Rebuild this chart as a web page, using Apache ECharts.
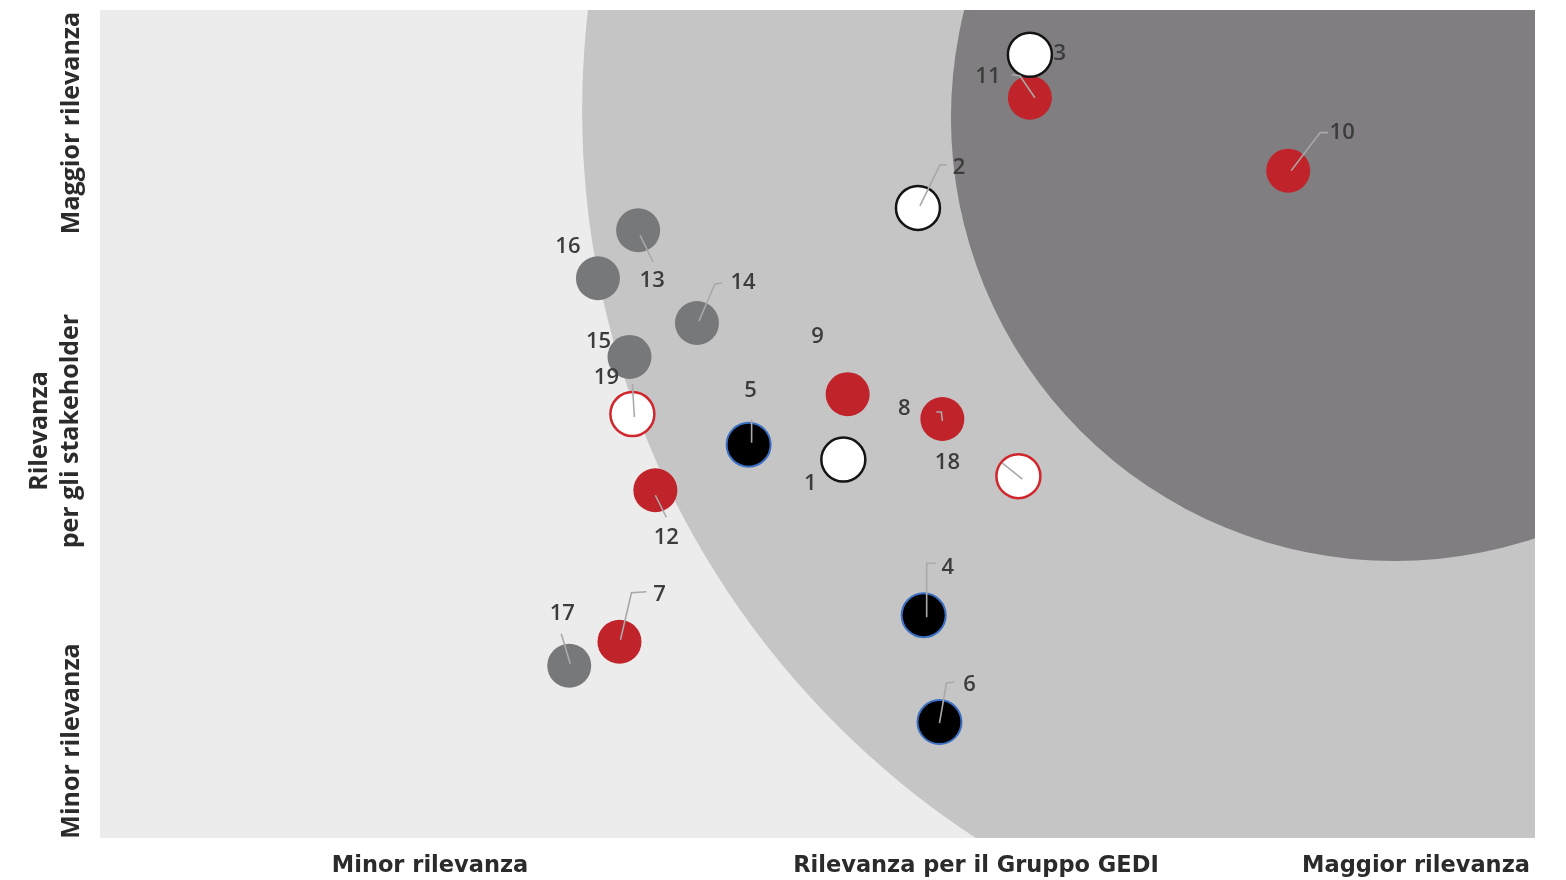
<!DOCTYPE html>
<html>
<head>
<meta charset="utf-8">
<script src="https://cdn.jsdelivr.net/npm/echarts@6/dist/echarts.min.js"></script>
<style>
  html, body { margin: 0; padding: 0; background: #ffffff; }
  #chart { width: 1566px; height: 880px; }
</style>
</head>
<body>
<div id="chart"></div>
<script>
// Material topics: relevance for the Group (x) and for stakeholders (y), 0–100 scale
const topicIds = ['1', '2', '3', '4', '5', '6', '7', '8', '9', '10',
                  '11', '12', '13', '14', '15', '16', '17', '18', '19'];
const groupRelevance = [51.8, 57.0, 64.8, 57.4, 45.2, 58.5, 36.2, 58.7, 52.1, 82.8,
                        64.8, 38.7, 37.5, 41.6, 36.9, 34.7, 32.7, 64.0, 37.1];
const stakeholderRelevance = [45.7, 76.1, 94.6, 26.9, 47.5, 14.0, 23.7, 50.6, 53.6, 80.6,
                              89.4, 42.0, 73.4, 62.2, 58.1, 67.6, 20.8, 43.7, 51.2];
const topicGroups = ['outline', 'outline', 'outline', 'dark', 'dark', 'dark',
                     'red', 'red', 'red', 'red', 'red', 'red',
                     'grey', 'grey', 'grey', 'grey', 'grey', 'ring', 'ring'];

// Relevance zones: centre (x, y) and radius in x-axis units
const zoneCenterX = [94.2, 90.2];
const zoneCenterY = [87.9, 87.0];
const zoneRadius = [60.6, 30.9];

// Axis titles
const xAxisTitles = ['Minor rilevanza', 'Rilevanza per il Gruppo GEDI', 'Maggior rilevanza'];
const yAxisTitles = ['Minor rilevanza', 'Rilevanza\nper gli stakeholder', 'Maggior rilevanza'];

// ---- styling ----
const zoneColors = ['#c5c5c5', '#807e81'];
const groupStyles = {
  red:     { color: '#c1232a', borderColor: '#c1232a', borderWidth: 0 },
  grey:    { color: '#76787a', borderColor: '#76787a', borderWidth: 0 },
  dark:    { color: '#000000', borderColor: '#3b6fc2', borderWidth: 2 },
  ring:    { color: '#ffffff', borderColor: '#d0262c', borderWidth: 2.5 },
  outline: { color: '#ffffff', borderColor: '#141414', borderWidth: 2.5 }
};
const drawOrder = ['red', 'grey', 'dark', 'ring', 'outline'];

// Label placement in pixels relative to each marker, with optional leader polyline
const labelPlacement = {
  '1':  { label: [-33, 24] },
  '2':  { label: [41, -40], leader: [[2, -2], [22, -43], [29, -43]] },
  '3':  { label: [30, -1] },
  '4':  { label: [24, -48], leader: [[3, 2], [3, -52], [12, -52]] },
  '5':  { label: [2, -54], leader: [[3, -2], [3, -25]] },
  '6':  { label: [30, -37], leader: [[0, 1], [7, -39], [15, -40]] },
  '7':  { label: [40, -47], leader: [[1, -2], [12, -49], [27, -50]] },
  '8':  { label: [-38, -10], leader: [[0, 2], [-1, -7], [-6, -7]] },
  '9':  { label: [-30, -57] },
  '10': { label: [54, -38], leader: [[3, 0], [32, -38], [40, -38]] },
  '11': { label: [-42, -21], leader: [[5, 0], [-10, -22], [-18, -23]] },
  '12': { label: [11, 47], leader: [[0, 5], [11, 27]] },
  '13': { label: [14, 50], leader: [[2, 5], [15, 32]] },
  '14': { label: [46, -40], leader: [[2, -2], [18, -39], [25, -40]] },
  '15': { label: [-31, -15] },
  '16': { label: [-30, -32] },
  '17': { label: [-7, -52], leader: [[1, -2], [-8, -32]] },
  '18': { label: [-71, -13], leader: [[4, 3], [-16, -13]] },
  '19': { label: [-26, -36], leader: [[2, 3], [0, -30]] }
};

const chart = echarts.init(document.getElementById('chart'), null, { renderer: 'canvas' });

const zoneData = zoneRadius.map((r, i) => [zoneCenterX[i], zoneCenterY[i], r, i]);
const topicData = topicIds.map((id, i) => [groupRelevance[i], stakeholderRelevance[i], i]);

const scatterSeries = drawOrder.map((g, k) => ({
  type: 'scatter',
  name: g,
  symbol: 'circle',
  symbolSize: 44,
  z: 3 + k * 0.1,
  itemStyle: Object.assign({ opacity: 1 }, groupStyles[g]),
  emphasis: { disabled: true },
  silent: true,
  data: topicData.filter(d => topicGroups[d[2]] === g).map(d => [d[0], d[1]])
}));

const xTitleFont = '700 22.5px "DejaVu Sans", sans-serif';
const yTitleFont = '700 25px "Open Sans", sans-serif';

chart.setOption({
  animation: false,
  backgroundColor: '#ffffff',
  grid: {
    left: 100, right: 31, top: 10, bottom: 42,
    show: true, backgroundColor: '#ececec', borderWidth: 0
  },
  xAxis: { type: 'value', min: 0, max: 100, show: false },
  yAxis: { type: 'value', min: 0, max: 100, show: false },
  series: [
    {
      type: 'custom',
      name: 'zones',
      silent: true,
      z: 1,
      data: zoneData,
      encode: { x: 0, y: 1 },
      renderItem: function (params, api) {
        const c = api.coord([api.value(0), api.value(1)]);
        const r = api.size([api.value(2), 0])[0];
        const cs = params.coordSys;
        return {
          type: 'circle',
          shape: { cx: c[0], cy: c[1], r: r },
          style: { fill: zoneColors[api.value(3)] },
          clipPath: { type: 'rect', shape: { x: cs.x, y: cs.y, width: cs.width, height: cs.height } }
        };
      }
    },
    ...scatterSeries,
    {
      type: 'custom',
      name: 'labels',
      silent: true,
      z: 5,
      data: topicData,
      encode: { x: 0, y: 1 },
      renderItem: function (params, api) {
        const i = api.value(2);
        const id = topicIds[i];
        const c = api.coord([api.value(0), api.value(1)]);
        const lay = labelPlacement[id];
        const children = [];
        if (lay.leader) {
          children.push({
            type: 'polyline',
            shape: { points: lay.leader.map(p => [c[0] + p[0], c[1] + p[1]]) },
            style: { stroke: '#a9a9a9', lineWidth: 1.6, fill: null }
          });
        }
        children.push({
          type: 'text',
          x: c[0] + lay.label[0],
          y: c[1] + lay.label[1],
          style: {
            text: id,
            font: '600 22px "Open Sans", sans-serif',
            fill: '#3c3c3c',
            align: 'center',
            verticalAlign: 'middle'
          }
        });
        return { type: 'group', children: children };
      }
    }
  ],
  graphic: [
    { type: 'text', x: 430, y: 866, style: { text: xAxisTitles[0], font: xTitleFont, fill: '#2b2b2b', align: 'center', verticalAlign: 'middle' } },
    { type: 'text', x: 976, y: 866, style: { text: xAxisTitles[1], font: xTitleFont, fill: '#2b2b2b', align: 'center', verticalAlign: 'middle' } },
    { type: 'text', x: 1416, y: 866, style: { text: xAxisTitles[2], font: xTitleFont, fill: '#2b2b2b', align: 'center', verticalAlign: 'middle' } },
    { type: 'text', x: 72, y: 741, rotation: Math.PI / 2, style: { text: yAxisTitles[0], font: yTitleFont, fill: '#2b2b2b', align: 'center', verticalAlign: 'middle' } },
    { type: 'text', x: 55, y: 431, rotation: Math.PI / 2, style: { text: yAxisTitles[1], font: yTitleFont, fill: '#2b2b2b', align: 'center', verticalAlign: 'middle', lineHeight: 31 } },
    { type: 'text', x: 72, y: 123, rotation: Math.PI / 2, style: { text: yAxisTitles[2], font: yTitleFont, fill: '#2b2b2b', align: 'center', verticalAlign: 'middle' } }
  ]
});
</script>
</body>
</html>
